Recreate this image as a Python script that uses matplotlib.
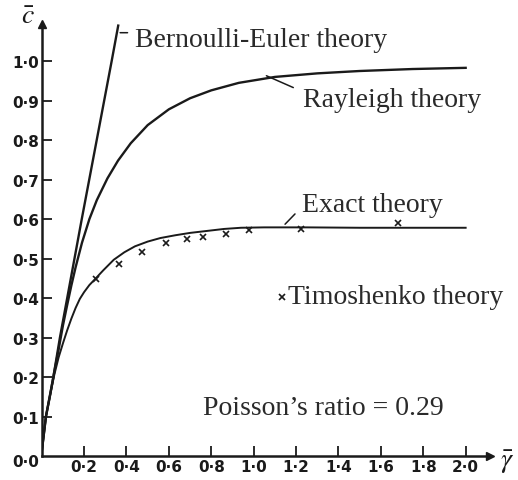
import numpy as np
import matplotlib.pyplot as plt

# values (gamma bar vs c bar)
be_g = [0.0, 0.02, 0.055, 0.086, 0.189, 0.33, 0.361]
be_c = [0.01, 0.1, 0.2, 0.3, 0.6, 1.0, 1.09]

ray_g = [0.0, 0.02, 0.04, 0.06, 0.08, 0.1, 0.12, 0.14, 0.16, 0.19, 0.225, 0.26, 0.31,
         0.36, 0.42, 0.5, 0.6, 0.7, 0.8, 0.93, 1.1, 1.3, 1.5, 1.75, 2.0]
ray_c = [0.01, 0.1, 0.155, 0.215, 0.27, 0.33, 0.382, 0.432, 0.478, 0.54, 0.6, 0.648,
         0.703, 0.748, 0.792, 0.838, 0.878, 0.906, 0.926, 0.945, 0.96, 0.969, 0.975,
         0.98, 0.983]

ex_g = [0.0, 0.02, 0.04, 0.06, 0.08, 0.1, 0.12, 0.14, 0.16, 0.18, 0.2, 0.225, 0.25,
        0.29, 0.34, 0.39, 0.44, 0.5, 0.56, 0.63, 0.7, 0.78, 0.86, 0.94, 1.05, 1.25,
        1.5, 2.0]
ex_c = [0.01, 0.1, 0.155, 0.207, 0.25, 0.285, 0.318, 0.348, 0.375, 0.398, 0.415, 0.433,
        0.447, 0.47, 0.497, 0.516, 0.531, 0.543, 0.552, 0.559, 0.565, 0.570, 0.575,
        0.578, 0.579, 0.579, 0.578, 0.578]

tim_g = [0.256, 0.366, 0.472, 0.586, 0.687, 0.759, 0.869, 0.978, 1.222, 1.68]
tim_c = [0.448, 0.486, 0.516, 0.539, 0.549, 0.554, 0.562, 0.573, 0.576, 0.589]

xticks = [0.2, 0.4, 0.6, 0.8, 1.0, 1.2, 1.4, 1.6, 1.8, 2.0]
xlabels = ['0·2', '0·4', '0·6', '0·8', '1·0', '1·2', '1·4', '1·6', '1·8', '2·0']
yticks = [0.1, 0.2, 0.3, 0.4, 0.5, 0.6, 0.7, 0.8, 0.9, 1.0]
ylabels = ['0·1', '0·2', '0·3', '0·4', '0·5', '0·6', '0·7', '0·8', '0·9', '1·0']

plt.rcParams['mathtext.fontset'] = 'stix'
serif = 'Liberation Serif'

fig = plt.figure(figsize=(5.18, 4.81), dpi=100)
ax = fig.add_axes([0.0805, 0.0499, 0.8655, 0.8981])
ax.set_xlim(0, 2.115)
ax.set_ylim(0, 1.094)

ink = '#1a1a1a'
ax.plot(be_g, be_c, color=ink, lw=1.7)
ax.plot(ray_g, ray_c, color=ink, lw=1.7)
ax.plot(ex_g, ex_c, color=ink, lw=1.4)
ax.plot(tim_g, tim_c, 'x', color=ink, ms=4, mew=1.2, clip_on=False)

for s in ['top', 'right']:
    ax.spines[s].set_visible(False)
for s in ['left', 'bottom']:
    ax.spines[s].set_linewidth(1.8)
    ax.spines[s].set_color(ink)
ax.plot(1, 0, '>', color=ink, ms=6, transform=ax.transAxes, clip_on=False)
ax.plot(0, 1, '^', color=ink, ms=6, transform=ax.transAxes, clip_on=False)

ax.set_xticks(xticks)
ax.set_xticklabels(xlabels)
ax.set_yticks(yticks)
ax.set_yticklabels(ylabels)
ax.tick_params(direction='in', length=7, width=1.3, colors=ink, pad=2,
               labelsize=11)
for lab in ax.get_xticklabels() + ax.get_yticklabels():
    lab.set_fontweight('bold')
ax.text(-0.075, -0.015, '0·0', fontsize=11, fontweight='bold', color=ink,
        ha='center', va='center', clip_on=False)

# axis symbols
fig.text(0.054, 0.966, r'$\bar{c}$', fontsize=20, ha='center', va='center', color=ink)
fig.text(0.978, 0.040, r'$\bar{\gamma}$', fontsize=20, ha='center', va='center', color=ink)

# curve labels with short leader strokes
tk = dict(fontsize=20, family=serif, color='#2a2a2a', va='center', ha='left')
lead = dict(arrowstyle='-', color=ink, lw=1.1, shrinkA=0, shrinkB=0)
ax.annotate('', xy=(0.37, 1.072), xytext=(0.405, 1.072),
            arrowprops=lead, annotation_clip=False)
ax.text(0.44, 1.056, 'Bernoulli-Euler theory', **tk)
ax.annotate('', xy=(1.06, 0.963), xytext=(1.187, 0.933), arrowprops=lead)
ax.text(1.233, 0.904, 'Rayleigh theory', **tk)
ax.annotate('', xy=(1.148, 0.587), xytext=(1.195, 0.613), arrowprops=lead)
ax.text(1.228, 0.638, 'Exact theory', **tk)
ax.plot([1.135], [0.402], 'x', color=ink, ms=4, mew=1.2)
ax.text(1.162, 0.405, 'Timoshenko theory', **tk)
ax.text(0.761, 0.124, 'Poisson\u2019s ratio = 0.29', **tk)

fig.savefig('out.png', dpi=100)
